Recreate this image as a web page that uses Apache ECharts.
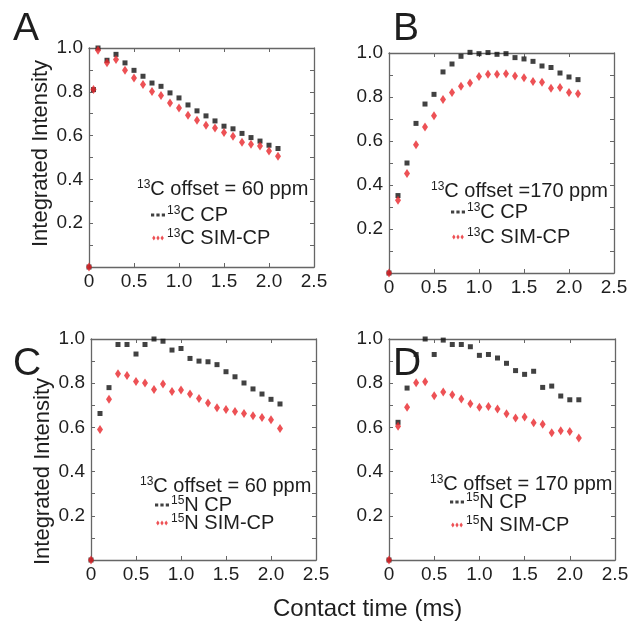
<!DOCTYPE html>
<html>
<head>
<meta charset="utf-8">
<script src="https://cdn.jsdelivr.net/npm/echarts@6/dist/echarts.min.js"></script>
<style>html,body{margin:0;padding:0;background:#fff}#c{width:634px;height:628px}</style>
</head>
<body>
<div id="c"></div>
<script>
// ---- data ----
const timeA = [0, 0.05, 0.1, 0.2, 0.3, 0.4, 0.5, 0.6, 0.7, 0.8, 0.9, 1.0, 1.1, 1.2, 1.3, 1.4, 1.5, 1.6, 1.7, 1.8, 1.9, 2.0, 2.1];
const timeBCD = [0, 0.1, 0.2, 0.3, 0.4, 0.5, 0.6, 0.7, 0.8, 0.9, 1.0, 1.1, 1.2, 1.3, 1.4, 1.5, 1.6, 1.7, 1.8, 1.9, 2.0, 2.1];

const cpA    = [0, 0.81, 1.0, 0.944, 0.971, 0.932, 0.898, 0.871, 0.840, 0.825, 0.795, 0.772, 0.740, 0.713, 0.690, 0.667, 0.643, 0.631, 0.610, 0.591, 0.575, 0.556, 0.541];
const simA   = [0, 0.81, 0.99, 0.933, 0.947, 0.898, 0.863, 0.833, 0.801, 0.783, 0.749, 0.726, 0.693, 0.670, 0.647, 0.635, 0.614, 0.597, 0.570, 0.561, 0.552, 0.530, 0.506];
const cpB    = [0, 0.352, 0.500, 0.680, 0.768, 0.812, 0.914, 0.950, 0.985, 1.003, 0.997, 1.002, 0.994, 0.997, 0.979, 0.973, 0.962, 0.941, 0.934, 0.909, 0.891, 0.879];
const simB   = [0, 0.331, 0.452, 0.583, 0.664, 0.715, 0.789, 0.821, 0.849, 0.864, 0.893, 0.903, 0.903, 0.906, 0.896, 0.888, 0.871, 0.867, 0.840, 0.843, 0.820, 0.815];
const cpC    = [0, 0.663, 0.780, 0.975, 0.975, 0.932, 0.975, 1.0, 0.99, 0.950, 0.957, 0.912, 0.900, 0.897, 0.884, 0.852, 0.829, 0.801, 0.774, 0.751, 0.727, 0.706];
const simC   = [0, 0.590, 0.727, 0.843, 0.835, 0.808, 0.801, 0.772, 0.796, 0.763, 0.769, 0.751, 0.731, 0.710, 0.689, 0.681, 0.672, 0.663, 0.653, 0.645, 0.635, 0.595];
const cpD    = [0, 0.623, 0.778, 0.930, 1.0, 0.930, 0.995, 0.975, 0.975, 0.965, 0.926, 0.930, 0.914, 0.890, 0.857, 0.840, 0.854, 0.781, 0.787, 0.742, 0.725, 0.725];
const simD   = [0, 0.605, 0.691, 0.802, 0.807, 0.743, 0.760, 0.748, 0.728, 0.707, 0.691, 0.695, 0.683, 0.662, 0.642, 0.647, 0.621, 0.614, 0.576, 0.585, 0.581, 0.552];

const panelLetters = ['A', 'B', 'C', 'D'];
const offsetTexts = ['C offset = 60 ppm', 'C offset =170 ppm', 'C offset = 60 ppm', 'C offset = 170 ppm'];
const offsetSup = '13';
const cpNames = [['13', 'C CP'], ['13', 'C CP'], ['15', 'N CP'], ['15', 'N CP']];
const simNames = [['13', 'C SIM-CP'], ['13', 'C SIM-CP'], ['15', 'N SIM-CP'], ['15', 'N SIM-CP']];
const xTitle = 'Contact time (ms)';
const yTitle = 'Integrated Intensity';

// ---- layout ----
const FONT = 'Liberation Sans, Arial, Helvetica, sans-serif';
const TXT = '#1e1e1e';
const AX = '#666';
const grids = [
  {left: 89, top: 48, width: 225, height: 219},
  {left: 389, top: 53, width: 225, height: 220},
  {left: 91, top: 339, width: 225, height: 221},
  {left: 389, top: 339, width: 226, height: 221}
];
const letterPos = [[8, 5], [388, 5], [8, 340], [388, 340]];
const offsetPos = [[132, 174], [426, 176], [135, 471], [425, 469]];
const legendPos = [[151, 205, 3], [451, 202, 5], [155, 495, -2], [450, 492, 3]];
const yNamePad = [[0, 0, 0, 8], null, [0, 44, 0, 0], null];

const panels = [
  {t: timeA, cp: cpA, sim: simA},
  {t: timeBCD, cp: cpB, sim: simB},
  {t: timeBCD, cp: cpC, sim: simC},
  {t: timeBCD, cp: cpD, sim: simD}
];

const rich = {
  s: {fontSize: 12, fontWeight: 'normal', fontFamily: FONT, color: TXT, verticalAlign: 'top', lineHeight: 20},
  t: {fontSize: 20, fontWeight: 'normal', fontFamily: FONT, color: TXT, lineHeight: 20}
};

const xAxes = [], yAxes = [], series = [], titles = [], legends = [];
const BLACK = '#111111', RED = '#e8262b';
const squaresIcon = 'path://M0,0h3v3h-3z M5,0h3v3h-3z M10,0h3v3h-3z';
const diamondsIcon = 'path://M2,0L4,3L2,6L0,3Z M7,0L9,3L7,6L5,3Z M12,0L14,3L12,6L10,3Z';

panels.forEach((p, i) => {
  const common = {
    gridIndex: i, min: 0, axisLine: {show: true, onZero: false, lineStyle: {color: AX, width: 1.3}},
    axisTick: {show: true, inside: true, length: 4, lineStyle: {color: AX, width: 1}},
    splitLine: {show: false}
  };
  xAxes.push(Object.assign({}, common, {
    type: 'value', position: 'bottom', max: 2.5, interval: 0.5,
    axisLabel: {margin: 5, fontSize: 19, fontFamily: FONT, color: TXT,
      formatter: v => v === 0 ? '0' : v.toFixed(1)}
  }));
  const ya = Object.assign({}, common, {
    type: 'value', position: 'left', max: 1.0, interval: 0.1,
    axisLabel: {margin: 6, fontSize: 19, fontFamily: FONT, color: TXT,
      formatter: v => { const k = Math.round(v * 10); return (k > 0 && k % 2 === 0) ? v.toFixed(1) : ''; }}
  });
  if (yNamePad[i]) {
    ya.name = yTitle; ya.nameLocation = 'middle'; ya.nameGap = 37;
    ya.nameTextStyle = {fontSize: 22, fontFamily: FONT, color: TXT, padding: yNamePad[i]};
  }
  yAxes.push(ya);
  titles.push({text: panelLetters[i], left: letterPos[i][0], top: letterPos[i][1],
    textStyle: {fontSize: 39, fontWeight: 'normal', fontFamily: FONT, color: TXT}});
  titles.push({text: '{s|' + offsetSup + '}{t|' + offsetTexts[i] + '}', left: offsetPos[i][0], top: offsetPos[i][1],
    textStyle: {fontWeight: 'normal', rich: rich}});
  const cpName = 'cp' + i, simName = 'sim' + i;
  series.push({
    name: cpName, type: 'scatter', xAxisIndex: i, yAxisIndex: i, clip: false,
    symbol: 'rect', symbolSize: 5, itemStyle: {color: BLACK},
    data: p.t.map((t, j) => [t, p.cp[j]])
  });
  series.push({
    name: simName, type: 'scatter', xAxisIndex: i, yAxisIndex: i, clip: false,
    symbol: 'diamond', symbolSize: [6, 9], itemStyle: {color: RED},
    data: p.t.map((t, j) => [t, p.sim[j]])
  });
  const labelMap = {};
  labelMap[cpName] = cpNames[i];
  labelMap[simName] = simNames[i];
  legends.push({
    left: legendPos[i][0], top: legendPos[i][1], orient: 'vertical', itemGap: legendPos[i][2],
    selectedMode: false, itemWidth: 14, itemHeight: 5, padding: 0,
    data: [{name: cpName, icon: squaresIcon}, {name: simName, icon: diamondsIcon}],
    formatter: n => '{s|' + labelMap[n][0] + '}{t|' + labelMap[n][1] + '}',
    textStyle: {fontWeight: 'normal', rich: rich, padding: [0, 0, 0, -3]}
  });
});
panels.forEach((p, i) => {
  const common = {
    gridIndex: i, min: 0, axisLine: {show: true, onZero: false, lineStyle: {color: AX, width: 1.3}},
    axisTick: {show: true, inside: true, length: 4, lineStyle: {color: AX, width: 1}},
    axisLabel: {show: false}, splitLine: {show: false}
  };
  xAxes.push(Object.assign({}, common, {type: 'value', position: 'top', max: 2.5, interval: 0.5}));
  yAxes.push(Object.assign({}, common, {type: 'value', position: 'right', max: 1.0, interval: 0.1}));
});
titles.push({text: xTitle, left: 268, top: 592,
  textStyle: {fontSize: 24, fontWeight: 'normal', fontFamily: FONT, color: TXT}});

const chart = echarts.init(document.getElementById('c'), null, {renderer: 'canvas'});
chart.setOption({
  animation: false,
  backgroundColor: '#fff',
  title: titles,
  legend: legends,
  grid: grids,
  xAxis: xAxes,
  yAxis: yAxes,
  series: series
});
</script>
</body>
</html>
